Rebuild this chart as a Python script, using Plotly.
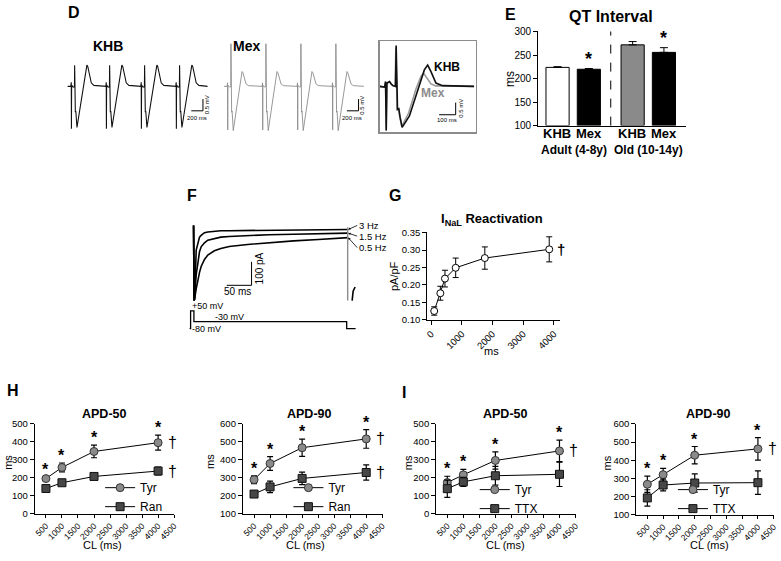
import plotly.graph_objects as go

W, H = 781, 561
FONT = "Liberation Sans, Arial, sans-serif"

# ---------------- D : pseudo-ECG ----------------
BEAT_ONSETS_MS = [0, 600, 1200, 1800]
KHB_BEAT_MS = [-120, -65, -58, -55, -52, -25, -3, 0, 12, 20, 40, 120, 180, 210, 225, 250, 285, 330, 420, 480]
KHB_BEAT_MV = [0.0, 0.0, 0.17, -1.80, 0.05, -0.03, -0.02, 0.90, -1.10, -1.05, -1.75, -0.45, 0.55, 0.90, 0.85, 0.50, 0.15, 0.04, 0.01, 0.0]
MEX_BEAT_MS = [-120, -65, -58, -55, -52, -25, -3, 0, 12, 20, 40, 120, 170, 190, 205, 230, 260, 300, 400, 480]
MEX_BEAT_MV = [0.0, 0.0, 0.15, -1.85, 0.05, -0.03, -0.02, 1.81, -1.10, -1.05, -1.88, -0.55, 0.40, 0.63, 0.58, 0.30, 0.10, 0.03, 0.01, 0.0]

INSET_KHB_MS = [-100, -70, -64, -60, -56, -40, -30, -20, -4, 0, 8, 16, 24, 36, 80, 130, 170, 190, 210, 240, 280, 470]
INSET_KHB_MV = [0, -0.03, 0.2, -1.82, 0.13, 0.2, 0.1, 0.03, 0.0, 1.69, -0.95, -0.92, -1.28, -1.69, -1.22, -0.2, 0.68, 0.88, 0.61, 0.135, 0.03, 0]
INSET_MEX_MS = [-100, -70, -64, -60, -56, -40, -30, -20, -6, -2, 6, 14, 22, 34, 75, 120, 150, 166, 185, 210, 240, 470]
INSET_MEX_MV = [0, -0.03, 0.2, -1.82, 0.13, 0.2, 0.1, 0.03, 0.0, 1.6, -0.95, -0.92, -1.28, -1.65, -1.1, -0.1, 0.42, 0.54, 0.35, 0.1, 0.02, 0]

# ---------------- E : QT interval ----------------
QT_LABELS = ["KHB", "Mex", "KHB", "Mex"]
QT_AGE_GROUPS = ["Adult (4-8y)", "Old (10-14y)"]
QT_MEAN = [224, 220, 272, 256]
QT_SEM = [1.5, 1.5, 7, 10]
QT_SIG = [False, True, False, True]

# ---------------- F : late Na current ----------------
F_RATES = ["3 Hz", "1.5 Hz", "0.5 Hz"]
F_T_MS = [-2, -1, 0, 3.3, 6.7, 10, 13.3, 20, 26.7, 40, 53, 70, 107, 150, 200, 250, 310]
F_3HZ_PA = [-20, -340, -333, -125, -90, -70, -62, -51, -48, -44, -43, -42.5, -42, -41, -40, -39, -37.5]
F_1HZ5_PA = [-20, -340, -333, -230, -167, -132, -111, -94, -83, -75, -70, -67, -62.5, -60, -58, -56, -53]
F_0HZ5_PA = [-20, -340, -333, -290, -250, -220, -195, -165, -146, -128, -118, -110, -101, -93, -86, -80, -72]
F_END_T = [309, 309]
F_END_PA = [-28, -340]
F_TAIL_T = [318, 320, 324]
F_TAIL_PA = [-340, -300, -282]
PROTO_T = [-10, -8, -8, -1.3, -1.3, 307, 307, 325]
PROTO_MV = [-80, -80, 50, 50, -30, -30, -80, -80]

# ---------------- G : INaL reactivation ----------------
G_MS = [100, 300, 450, 800, 1750, 3850]
G_PAPF = [0.125, 0.176, 0.218, 0.249, 0.277, 0.302]
G_ERR = [0.012, 0.02, 0.024, 0.028, 0.032, 0.036]

# ---------------- H / I : APD ----------------
CL_MS = [500, 1000, 2000, 4000]
H50_TYR = [196, 258, 347, 396]
H50_TYR_ERR = [10, 25, 35, 42]
H50_RAN = [141, 173, 208, 238]
H50_RAN_ERR = [8, 12, 15, 22]
H90_TYR = [290, 380, 468, 517]
H90_TYR_ERR = [22, 38, 48, 52]
H90_RAN = [210, 250, 297, 330]
H90_RAN_ERR = [15, 32, 35, 42]
I50_TYR = [174, 217, 297, 350]
I50_TYR_ERR = [35, 30, 48, 60]
I50_TTX = [140, 178, 212, 220]
I50_TTX_ERR = [48, 25, 52, 68]
I90_TYR = [268, 321, 428, 463]
I90_TYR_ERR = [45, 35, 48, 62]
I90_TTX = [193, 264, 275, 277]
I90_TTX_ERR = [45, 32, 50, 65]

# ---------------- helpers ----------------
def xd(a, b):
    return [a / W, b / W]


def yd(top, bottom):
    return [1 - bottom / H, 1 - top / H]


def ann(x, y, text, size=11, bold=False, color="black", xanchor="center",
        yanchor="middle", angle=0):
    return dict(x=x / W, y=1 - y / H, xref="paper", yref="paper",
                text=f"<b>{text}</b>" if bold else text, showarrow=False,
                font=dict(size=size, color=color, family=FONT),
                xanchor=xanchor, yanchor=yanchor, textangle=angle)


def hidden(domain, rng, anchor):
    return dict(domain=domain, range=rng, anchor=anchor, visible=False,
                showgrid=False, zeroline=False, fixedrange=True)


def gp_axis(domain, rng, anchor, dtick, tick0=0, size=9.5, **kw):
    d = dict(domain=domain, range=rng, anchor=anchor, showline=True,
             linecolor="black", linewidth=1, ticks="outside", ticklen=4,
             tickwidth=1, tickcolor="black", showgrid=False, zeroline=False,
             dtick=dtick, tick0=tick0, fixedrange=True,
             tickfont=dict(size=size, color="black", family=FONT))
    d.update(kw)
    return d


def tile(beat_t, beat_v, onsets):
    xs, ys = [], []
    for o in onsets:
        xs += [o + t for t in beat_t]
        ys += list(beat_v)
    return xs, ys


fig = go.Figure()
annotations = []
shapes = []

# ---------------- D ----------------
kx, ky = tile(KHB_BEAT_MS, KHB_BEAT_MV, BEAT_ONSETS_MS)
mx, my = tile(MEX_BEAT_MS, MEX_BEAT_MV, BEAT_ONSETS_MS)
fig.add_trace(go.Scatter(x=kx, y=ky, mode="lines", line=dict(color="#111111", width=1.1),
                         xaxis="x", yaxis="y", showlegend=False, hoverinfo="skip"))
fig.add_trace(go.Scatter(x=mx, y=my, mode="lines", line=dict(color="#8c8c8c", width=0.9),
                         xaxis="x2", yaxis="y2", showlegend=False, hoverinfo="skip"))
fig.add_trace(go.Scatter(x=INSET_MEX_MS, y=INSET_MEX_MV, mode="lines",
                         line=dict(color="#9a9a9a", width=1.6),
                         xaxis="x3", yaxis="y3", showlegend=False, hoverinfo="skip"))
fig.add_trace(go.Scatter(x=INSET_KHB_MS, y=INSET_KHB_MV, mode="lines",
                         line=dict(color="#111111", width=1.6),
                         xaxis="x3", yaxis="y3", showlegend=False, hoverinfo="skip"))


def scalebar(xref, yref, x0, y0, dx, dy, color="black", width=1):
    shapes.append(dict(type="line", xref=xref, yref=yref, x0=x0, x1=x0 + dx, y0=y0, y1=y0,
                       line=dict(color=color, width=width)))
    shapes.append(dict(type="line", xref=xref, yref=yref, x0=x0 + dx, x1=x0 + dx, y0=y0, y1=y0 + dy,
                       line=dict(color=color, width=width)))


scalebar("x", "y", 2001, -1.04, 200, 0.5)
scalebar("x2", "y2", 1989, -1.04, 200, 0.5)
scalebar("x3", "y3", 259, -1.17, 100, 0.5)
annotations += [
    ann(72, 8, "D", 16, True),
    ann(106, 42, "KHB", 14, True),
    ann(246, 42, "Mex", 14, True),
    ann(196, 115, "200 ms", 6),
    ann(206, 102, "0.5 mV", 6, angle=-90),
    ann(352, 115, "200 ms", 6),
    ann(362, 102, "0.5 mV", 6, angle=-90),
    ann(448, 63, "KHB", 12, True),
    ann(434, 90, "Mex", 12, True, color="#8c8c8c"),
    ann(448, 117, "100 ms", 6),
    ann(462, 105, "0.5 mV", 6, angle=-90),
]

# ---------------- E ----------------
E_POS = [1, 2, 3.4, 4.4]
E_COLORS = ["white", "black", "#8a8a8a", "black"]
fig.add_trace(go.Bar(x=E_POS, y=[m - 100 for m in QT_MEAN], base=100, width=0.74,
                     marker=dict(color=E_COLORS, line=dict(color="black", width=1)),
                     error_y=dict(type="data", array=QT_SEM, arrayminus=[0] * 4, symmetric=False,
                                  color="black", thickness=1, width=4),
                     xaxis="x4", yaxis="y4", showlegend=False, hoverinfo="skip"))
shapes.append(dict(type="line", xref="x4", yref="y4 domain", x0=2.7, x1=2.7, y0=0, y1=1,
                   line=dict(color="black", width=1, dash="dash")))
for p, m, s, sig in zip(E_POS, QT_MEAN, QT_SEM, QT_SIG):
    if sig:
        annotations.append(dict(x=p, y=m + s, xref="x4", yref="y4", text="<b>*</b>",
                                showarrow=False, yanchor="bottom", yshift=-2,
                                font=dict(size=18, family=FONT, color="black")))
annotations += [
    ann(512, 10, "E", 16, True),
    ann(614, 12, "QT Interval", 16, True),
    ann(511, 75, "ms", 12, angle=-90),
]
for p, lab in zip(E_POS, QT_LABELS):
    annotations.append(ann(528 + 31.5 * p, 131, lab, 13, True))
annotations.append(ann(576, 148, QT_AGE_GROUPS[0], 12, True))
annotations.append(ann(651, 148, QT_AGE_GROUPS[1], 12, True))

# ---------------- F ----------------
for vals in (F_0HZ5_PA, F_1HZ5_PA, F_3HZ_PA):
    fig.add_trace(go.Scatter(x=F_T_MS, y=vals, mode="lines", line=dict(color="black", width=1.6),
                             xaxis="x5", yaxis="y5", showlegend=False, hoverinfo="skip"))
fig.add_trace(go.Scatter(x=F_END_T, y=F_END_PA, mode="lines", line=dict(color="#8c8c8c", width=1.4),
                         xaxis="x5", yaxis="y5", showlegend=False, hoverinfo="skip"))
fig.add_trace(go.Scatter(x=F_TAIL_T, y=F_TAIL_PA, mode="lines", line=dict(color="black", width=1.6),
                         xaxis="x5", yaxis="y5", showlegend=False, hoverinfo="skip"))
fig.add_trace(go.Scatter(x=PROTO_T, y=PROTO_MV, mode="lines", line=dict(color="black", width=1.3),
                         xaxis="x6", yaxis="y6", showlegend=False, hoverinfo="skip"))
scalebar("x5", "y5", 65, -275, 50, 100)
for name, vals, ay in zip(F_RATES, (F_3HZ_PA, F_1HZ5_PA, F_0HZ5_PA), (-4, 3, 10)):
    annotations.append(dict(x=F_T_MS[-1], y=vals[-1], xref="x5", yref="y5", text=name,
                            showarrow=True, ax=9, ay=ay, arrowhead=2, arrowsize=0.6,
                            arrowwidth=0.8, arrowcolor="black", xanchor="left", yanchor="middle",
                            font=dict(size=9.5, family=FONT, color="black")))
annotations += [
    ann(191, 194, "F", 16, True),
    ann(237, 292, "50 ms", 10),
    ann(259, 269, "100 pA", 10, angle=-90),
    ann(189, 307, "+50 mV", 9, xanchor="left"),
    ann(212, 318, "-30 mV", 9, xanchor="left"),
    ann(189, 330, "-80 mV", 9, xanchor="left"),
]

# ---------------- G ----------------
fig.add_trace(go.Scatter(x=G_MS, y=G_PAPF, mode="lines+markers",
                         error_y=dict(type="data", array=G_ERR, color="black", thickness=1, width=3),
                         marker=dict(symbol="circle", size=7, color="white",
                                     line=dict(color="black", width=1)),
                         line=dict(color="black", width=1),
                         xaxis="x7", yaxis="y7", showlegend=False, hoverinfo="skip"))
annotations.append(dict(x=G_MS[-1], y=G_PAPF[-1], xref="x7", yref="y7", text="<b>†</b>",
                        showarrow=False, xanchor="left", xshift=6,
                        font=dict(size=15, family=FONT, color="black")))
annotations += [
    ann(396, 194, "G", 16, True),
    ann(493, 219, "I<sub>NaL</sub> Reactivation", 13, True),
    ann(394, 276, "pA/pF", 11, angle=-90),
    ann(493, 353, "ms", 11),
]

# ---------------- H / I ----------------
TYR_STYLE = dict(symbol="circle", size=8, color="#8a8a8a", line=dict(color="#333333", width=1))
OTH_STYLE = dict(symbol="square", size=8, color="#474747", line=dict(color="#111111", width=1))


def apd_panel(xa, ya, legend, tyr, tyr_err, oth, oth_err, oth_name, dag_oth):
    fig.add_trace(go.Scatter(x=CL_MS, y=tyr, mode="lines+markers", name="Tyr",
                             error_y=dict(type="data", array=tyr_err, color="black", thickness=1.2, width=3),
                             marker=TYR_STYLE, line=dict(color="black", width=1),
                             xaxis=xa, yaxis=ya, legend=legend, hoverinfo="skip"))
    fig.add_trace(go.Scatter(x=CL_MS, y=oth, mode="lines+markers", name=oth_name,
                             error_y=dict(type="data", array=oth_err, color="black", thickness=1.2, width=3),
                             marker=OTH_STYLE, line=dict(color="black", width=1),
                             xaxis=xa, yaxis=ya, legend=legend, hoverinfo="skip"))
    for c, m, e in zip(CL_MS, tyr, tyr_err):
        annotations.append(dict(x=c, y=m + e, xref=xa, yref=ya, text="<b>*</b>", showarrow=False,
                                yanchor="bottom", yshift=-3,
                                font=dict(size=16, family=FONT, color="black")))
    daggers = [tyr[-1]] + ([oth[-1]] if dag_oth else [])
    for m in daggers:
        annotations.append(dict(x=CL_MS[-1], y=m, xref=xa, yref=ya, text="†", showarrow=False,
                                xanchor="left", xshift=8,
                                font=dict(size=16, family=FONT, color="black")))


apd_panel("x8", "y8", "legend", H50_TYR, H50_TYR_ERR, H50_RAN, H50_RAN_ERR, "Ran", True)
apd_panel("x9", "y9", "legend2", H90_TYR, H90_TYR_ERR, H90_RAN, H90_RAN_ERR, "Ran", True)
apd_panel("x10", "y10", "legend3", I50_TYR, I50_TYR_ERR, I50_TTX, I50_TTX_ERR, "TTX", False)
apd_panel("x11", "y11", "legend4", I90_TYR, I90_TYR_ERR, I90_TTX, I90_TTX_ERR, "TTX", False)

annotations += [
    ann(10, 393, "H", 16, True),
    ann(405, 395, "I", 16, True),
    ann(102, 417, "APD-50", 12.5, True),
    ann(309, 417, "APD-90", 12.5, True),
    ann(507, 417, "APD-50", 12.5, True),
    ann(712, 417, "APD-90", 12.5, True),
    ann(5, 466, "ms", 11, angle=-90),
    ann(209, 466, "ms", 11, angle=-90),
    ann(409, 467, "ms", 11, angle=-90),
    ann(609, 467, "ms", 11, angle=-90),
    ann(100, 551, "CL (ms)", 11),
    ann(305, 551, "CL (ms)", 11),
    ann(507, 551, "CL (ms)", 11),
    ann(713, 551, "CL (ms)", 11),
]


def legend_at(xpx, ypx):
    return dict(x=xpx / W, y=1 - ypx / H, xanchor="left", yanchor="middle",
                bgcolor="rgba(0,0,0,0)", font=dict(size=12, family=FONT, color="black"),
                tracegroupgap=0, itemwidth=30)


# ---------------- layout ----------------
CL_RANGE = [150, 4510]
layout = dict(
    width=W, height=H, autosize=False, margin=dict(l=0, r=0, t=0, b=0),
    paper_bgcolor="white", plot_bgcolor="white",
    font=dict(family=FONT, color="black"),
    xaxis=hidden(xd(64, 212), [-141, 2375], "y"),
    yaxis=hidden(yd(38, 130), [-1.96, 1.875], "x"),
    xaxis2=hidden(xd(220, 368), [-170, 2346], "y2"),
    yaxis2=hidden(yd(38, 130), [-1.96, 1.875], "x2"),
    xaxis3=dict(domain=xd(380, 477), range=[-100, 480], anchor="y3", showline=True, mirror=True,
                linecolor="#8c8c8c", linewidth=1.5, showticklabels=False, ticks="",
                showgrid=False, zeroline=False, fixedrange=True),
    yaxis3=dict(domain=yd(37, 130), range=[-1.90, 1.86], anchor="x3", showline=True, mirror=True,
                linecolor="#8c8c8c", linewidth=1.5, showticklabels=False, ticks="",
                showgrid=False, zeroline=False, fixedrange=True),
    xaxis4=dict(domain=xd(540, 689), range=[0.38, 5.1], anchor="y4", showline=True,
                linecolor="black", linewidth=1, showticklabels=False, ticks="",
                showgrid=False, zeroline=False, fixedrange=True),
    yaxis4=gp_axis(yd(27, 123), [100, 300.5], "x4", 50, 100, size=10),
    xaxis5=hidden(xd(186, 360), [-14.6, 333.4], "y5"),
    yaxis5=hidden(yd(220, 302), [-342, 0], "x5"),
    xaxis6=hidden(xd(186, 360), [-14.6, 333.4], "y6"),
    yaxis6=hidden(yd(305, 335), [-116, 100], "x6"),
    xaxis7=gp_axis(xd(428, 562), [-130, 4200], "y7", 1000, 0, size=9.5, tickangle=-45),
    yaxis7=gp_axis(yd(232, 321), [0.10, 0.3505], "x7", 0.05, 0.10, size=9.5, tickformat=".2f"),
    xaxis8=gp_axis(xd(32, 173), CL_RANGE, "y8", 500, 500, size=8.5, ticklen=3, tickangle=-45),
    yaxis8=gp_axis(yd(427, 519), [0, 502], "x8", 100, 0, size=9.5),
    xaxis9=gp_axis(xd(242, 383), CL_RANGE, "y9", 500, 500, size=8.5, ticklen=3, tickangle=-45),
    yaxis9=gp_axis(yd(427, 519), [100, 602], "x9", 100, 0, size=9.5),
    xaxis10=gp_axis(xd(437, 578), CL_RANGE, "y10", 500, 500, size=8.5, ticklen=3, tickangle=-45),
    yaxis10=gp_axis(yd(427, 519), [0, 502], "x10", 100, 0, size=9.5),
    xaxis11=gp_axis(xd(639, 778), CL_RANGE, "y11", 500, 500, size=8.5, ticklen=3, tickangle=-45),
    yaxis11=gp_axis(yd(427, 520), [100, 602], "x11", 100, 0, size=9.5),
    legend=legend_at(98, 502),
    legend2=legend_at(288, 502),
    legend3=legend_at(476, 504),
    legend4=legend_at(676, 504),
    annotations=annotations,
    shapes=shapes,
)
fig.update_layout(**layout)
fig.write_html(
    "out.html",
    config={"displayModeBar": False, "staticPlot": True},
    post_script="document.body.style.margin='0';document.body.style.overflow='hidden';",
)
